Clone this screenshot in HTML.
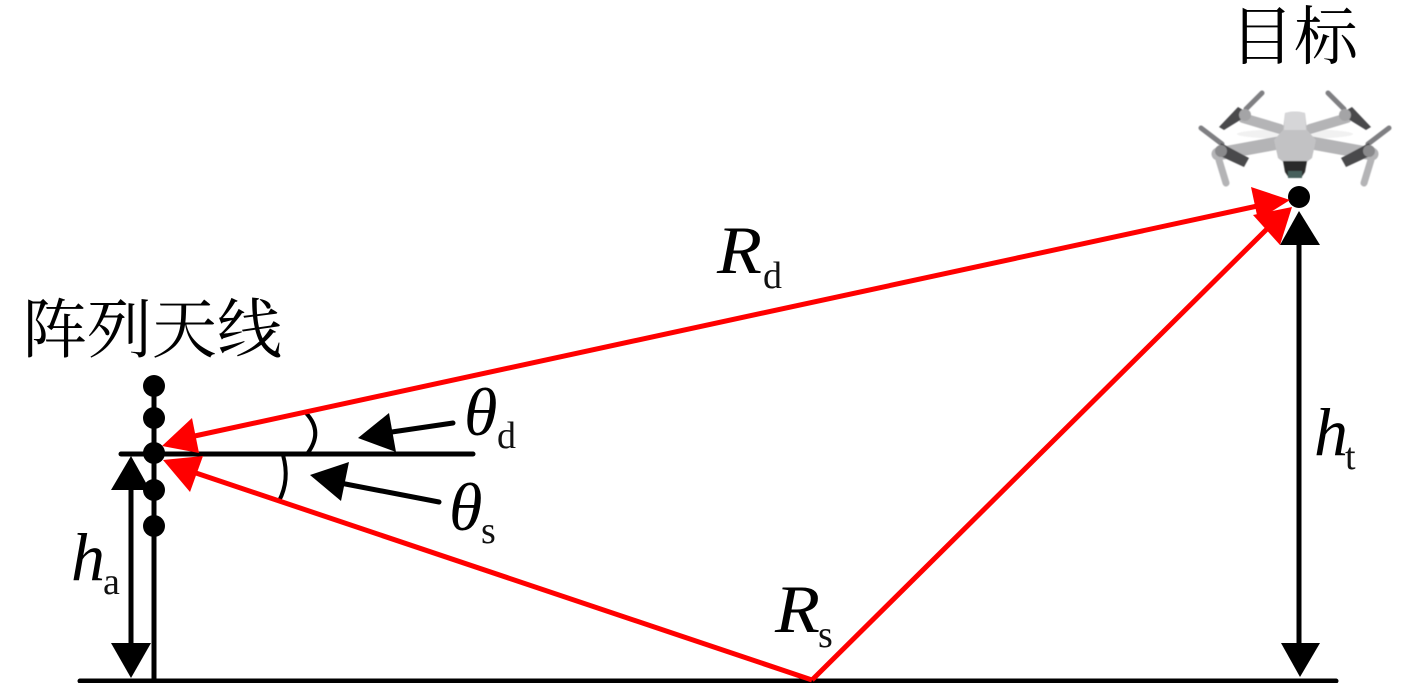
<!DOCTYPE html>
<html><head><meta charset="utf-8"><style>
html,body{margin:0;padding:0;background:#fff}
svg{display:block}
.cjk{font-family:"Liberation Serif","Noto Serif CJK SC",serif;font-size:64px;fill:#000}
.m{font-family:"Liberation Serif",serif;font-style:italic;font-size:68px;fill:#000}
.s{font-family:"Liberation Serif",serif;font-size:38px;fill:#111}
</style></head><body>
<svg width="1417" height="683" viewBox="0 0 1417 683" xmlns="http://www.w3.org/2000/svg">
<defs><filter id="b" x="-5%" y="-5%" width="110%" height="110%"><feGaussianBlur stdDeviation="0.4"/></filter></defs>
<rect width="1417" height="683" fill="#fff"/>
<text class="cjk" x="1230" y="59">目标</text>
<text class="cjk" x="22" y="352" style="font-size:65px">阵列天线</text>

<!-- drone -->
<g filter="url(#b)">
<ellipse cx="1295" cy="134" rx="58" ry="5" fill="#f1f1f1"/>
<g stroke="#b4b4b6" stroke-linecap="round" fill="none">
<path d="M1280 129L1243 118" stroke-width="10"/>
<path d="M1310 129L1347 118" stroke-width="10"/>
<path d="M1278 143L1218 154" stroke-width="13"/>
<path d="M1312 143L1372 154" stroke-width="13"/>
<path d="M1219 160L1226 183" stroke-width="7"/>
<path d="M1371 160L1364 183" stroke-width="7"/>
</g>
<g stroke="#7f7f82" stroke-width="5" stroke-linecap="round" fill="none">
<path d="M1246 109L1262 93"/>
<path d="M1344 109L1328 93"/>
<path d="M1222 144L1201 128"/>
<path d="M1368 144L1389 128"/>
</g>
<g fill="#48484b">
<path d="M1238 107L1250 114L1224 130L1219 127Z"/>
<path d="M1352 107L1340 114L1366 130L1371 127Z"/>
<path d="M1221 143L1249 158L1244 167L1218 155Z"/>
<path d="M1369 143L1341 158L1346 167L1372 155Z"/>
</g>
<circle cx="1245" cy="115" r="6" fill="#a4a4a6"/>
<circle cx="1345" cy="115" r="6" fill="#a4a4a6"/>
<circle cx="1221" cy="151" r="6" fill="#8a8a8c"/>
<circle cx="1369" cy="151" r="6" fill="#8a8a8c"/>
<path d="M1285 113Q1295 110 1305 113L1307 130L1316 140L1312 158L1303 165H1287L1278 158L1274 140L1283 130Z" fill="#c2c2c4"/>
<path d="M1285 113Q1295 110 1305 113L1306 130L1284 130Z" fill="#d6d6d8"/>
<path d="M1283 161H1307L1305 172L1301 178H1289L1285 172Z" fill="#2a2a2c"/>
<rect x="1288" y="171" width="14" height="7" fill="#47605c"/>
</g>

<!-- black lines -->
<g stroke="#000" stroke-width="5" fill="none" stroke-linecap="round">
<path d="M80 681H1336" stroke-width="5"/>
<path d="M154 386V681"/>
<path d="M121 454H473"/>
<path d="M131 480V650"/>
<path d="M1299 235V650"/>
<path d="M385 433L453 423"/>
<path d="M335 482L439 502"/>
<path d="M306 413Q324 432 307 454" stroke-width="4"/>
<path d="M283 455Q290 480 279 501" stroke-width="4"/>
</g>
<g fill="#000">
<circle cx="154" cy="386" r="11"/>
<circle cx="154" cy="418" r="11"/>
<circle cx="154" cy="453" r="11"/>
<circle cx="154" cy="490" r="11"/>
<circle cx="154" cy="526" r="11"/>
<circle cx="1299" cy="197" r="11"/>
<path d="M1299 211L1320 245H1280Z"/>
<path d="M1281 643H1320L1300 677Z"/>
<path d="M131 456L150 490H111Z"/>
<path d="M111 643H151L131 678Z"/>
<path d="M358 438L389 413L396 452Z"/>
<path d="M310 475L349 462L341 501Z"/>
</g>

<!-- red -->
<g stroke="#f00" stroke-width="5" fill="none">
<path d="M190 437L1262 205"/>
<path d="M190 471L812 680"/>
<path d="M812 680L1272 224"/>
</g>
<g fill="#f00">
<path d="M162 446L192 418L199 453Z"/>
<path d="M163 460L203 456L190 492Z"/>
<path d="M1290 200L1251 187L1258 220Z"/>
<path d="M1292 207L1253 215L1280 245Z"/>
</g>

<!-- labels -->
<text class="m" x="717" y="273" textLength="45" lengthAdjust="spacingAndGlyphs">R</text><text class="s" x="763" y="288">d</text>
<text class="m" x="775" y="632" textLength="45" lengthAdjust="spacingAndGlyphs">R</text><text class="s" x="818" y="647">s</text>
<text class="m" x="71" y="580">h</text><text class="s" x="103" y="594">a</text>
<text class="m" x="1314" y="455">h</text><text class="s" x="1345" y="469">t</text>
<text class="m" x="464" y="435">θ</text><text class="s" x="497" y="448">d</text>
<text class="m" x="449" y="530">θ</text><text class="s" x="481" y="543">s</text>
</svg>
</body></html>
